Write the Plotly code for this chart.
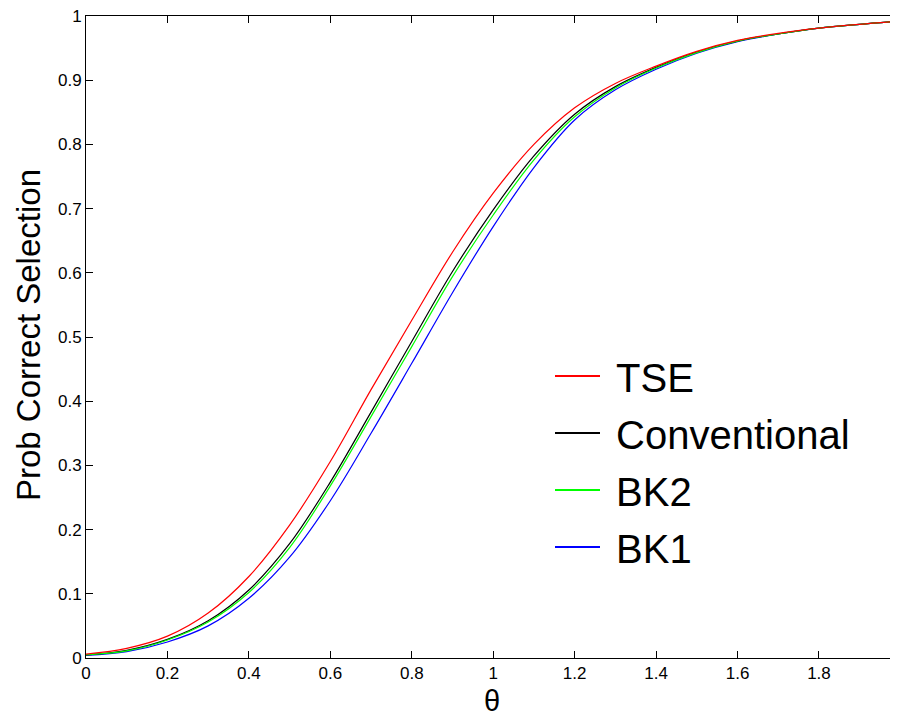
import plotly.graph_objects as go

theta = [0.0, 0.1, 0.2, 0.3, 0.4, 0.5, 0.6, 0.7, 0.8, 0.9, 1.0,
         1.1, 1.2, 1.3, 1.4, 1.5, 1.6, 1.7, 1.8, 1.9, 2.0]

tse = [0.006, 0.015, 0.034, 0.070, 0.127, 0.207, 0.306, 0.418, 0.526, 0.632, 0.724,
       0.800, 0.857, 0.895, 0.922, 0.945, 0.962, 0.973, 0.981, 0.987, 0.992]
conventional = [0.005, 0.012, 0.029, 0.058, 0.106, 0.178, 0.274, 0.383, 0.493, 0.602, 0.698,
                0.782, 0.847, 0.890, 0.920, 0.944, 0.961, 0.972, 0.981, 0.987, 0.992]
bk2 = [0.005, 0.011, 0.028, 0.056, 0.102, 0.172, 0.268, 0.376, 0.485, 0.594, 0.690,
       0.776, 0.843, 0.888, 0.919, 0.943, 0.961, 0.972, 0.981, 0.987, 0.992]
bk1 = [0.004, 0.010, 0.025, 0.050, 0.093, 0.157, 0.245, 0.350, 0.459, 0.569, 0.672,
       0.764, 0.838, 0.885, 0.917, 0.942, 0.960, 0.972, 0.981, 0.987, 0.992]

series = [("TSE", tse, "#ff0000"),
          ("Conventional", conventional, "#000000"),
          ("BK2", bk2, "#00ff00"),
          ("BK1", bk1, "#0000ff")]

x_ticks = [0, 0.2, 0.4, 0.6, 0.8, 1, 1.2, 1.4, 1.6, 1.8]
x_ticklabels = ["0", "0.2", "0.4", "0.6", "0.8", "1", "1.2", "1.4", "1.6", "1.8"]
y_ticks = [0, 0.1, 0.2, 0.3, 0.4, 0.5, 0.6, 0.7, 0.8, 0.9, 1]
y_ticklabels = ["0", "0.1", "0.2", "0.3", "0.4", "0.5", "0.6", "0.7", "0.8", "0.9", "1"]

x_title = "θ"
y_title = "Prob Correct Selection"

FONT = "Liberation Sans, Arial, Helvetica, sans-serif"

fig = go.Figure()

# real curves (draw order: BK1, Conventional, BK2, TSE)
for name, vals, col in [series[3], series[1], series[2], series[0]]:
    fig.add_trace(go.Scatter(x=theta, y=vals, mode="lines", name=name,
                             line=dict(color=col, width=1.2, shape="spline", smoothing=1.0),
                             showlegend=False, hoverinfo="x+y"))

# legend entries
for i, (name, vals, col) in enumerate(series):
    fig.add_trace(go.Scatter(x=[None], y=[None], mode="lines", name="\u00a0" + name,
                             legendgroup=f"g{i}",
                             line=dict(color=col, width=2), showlegend=True))

# helper trace for right-side ticks
fig.add_trace(go.Scatter(x=[None], y=[None], yaxis="y2", showlegend=False))

# the page body has an 8px margin; figure is sized to fill the remaining window
W, H = 890, 705
L, T, B = 78, 8, 55
plot_w = W - L
plot_h = H - T - B
x_full_px = 900.4 - 8 - L
x_max = 2.0 * plot_w / x_full_px

fig.update_layout(
    width=W, height=H,
    margin=dict(l=L, r=0, t=T, b=B, autoexpand=False),
    paper_bgcolor="white", plot_bgcolor="white",
    font=dict(family=FONT, size=17, color="black"),
    showlegend=True,
    legend=dict(x=(550 - 86) / plot_w, y=(658 - 343.5) / plot_h, xanchor="left", yanchor="top",
                font=dict(family=FONT, size=40, color="black"),
                bgcolor="rgba(0,0,0,0)", borderwidth=0, itemwidth=45,
                traceorder="grouped", tracegroupgap=2),
    xaxis=dict(range=[0, x_max], tickvals=x_ticks, ticktext=x_ticklabels,
               ticks="inside", ticklen=7, tickcolor="black", tickwidth=1,
               showline=True, linecolor="black", linewidth=1, mirror="ticks",
               showgrid=False, zeroline=False, ticklabeloverflow="allow",
               automargin=False, tickfont=dict(size=17)),
    yaxis=dict(range=[0, 1], tickvals=y_ticks, ticktext=y_ticklabels,
               ticks="inside", ticklen=7, tickcolor="black", tickwidth=1,
               showline=True, linecolor="black", linewidth=1,
               showgrid=False, zeroline=False, ticklabeloverflow="allow",
               automargin=False, tickfont=dict(size=17)),
    yaxis2=dict(range=[0, 1], tickvals=y_ticks, overlaying="y", side="right",
                ticks="inside", ticklen=7, tickcolor="black", tickwidth=1,
                showticklabels=False, showline=False, showgrid=False, zeroline=False,
                automargin=False),
    annotations=[
        dict(text="2", xref="paper", yref="paper",
             x=x_full_px / plot_w, y=0, xanchor="center", yanchor="top",
             yshift=-3, showarrow=False, font=dict(size=17, family=FONT)),
        dict(text=x_title, xref="paper", yref="paper",
             x=(491.7 - 86) / plot_w, y=0, xanchor="center", yanchor="middle",
             yshift=-42.5, showarrow=False, font=dict(size=29, family=FONT)),
        dict(text=y_title, xref="paper", yref="paper", textangle=-90,
             x=0, y=(658 - 335) / plot_h, xanchor="center", yanchor="middle",
             xshift=-(86 - 28), showarrow=False, font=dict(size=33, family=FONT)),
    ],
)

fig.write_html("out.html")
